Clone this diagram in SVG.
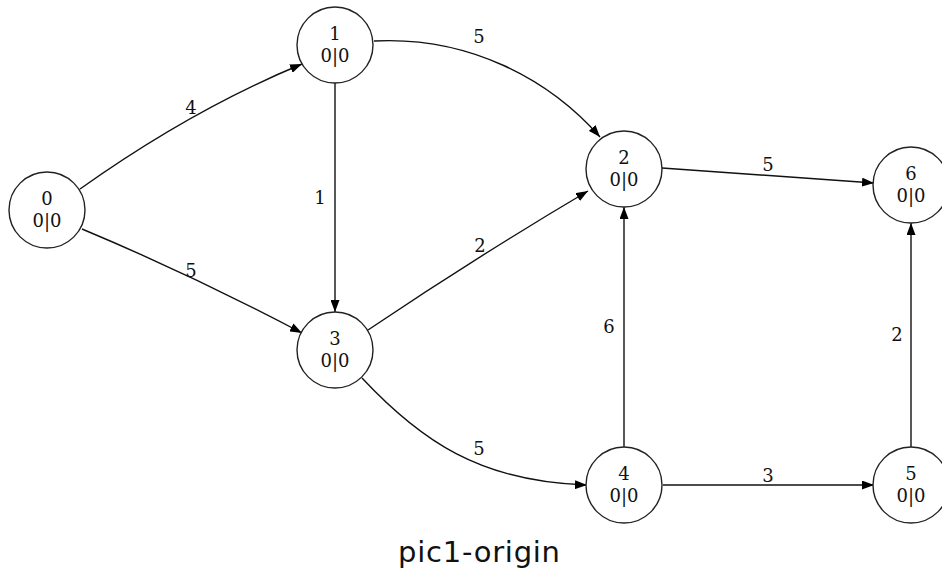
<svg xmlns="http://www.w3.org/2000/svg" width="942" height="572" viewBox="0 0 942 572">
<style>
.node circle{fill:#fff;stroke:#222;stroke-width:1.4}
.node text,.lbl{font-family:"DejaVu Serif",serif;font-size:18px;fill:#111;text-anchor:middle}
.edges path{fill:none;stroke:#111;stroke-width:1.4;marker-end:url(#arr)}
.title{font-family:"DejaVu Sans",sans-serif;font-size:29px;fill:#111}
</style>
<defs>
<marker id="arr" viewBox="0 0 12 9" refX="12" refY="4.5" markerWidth="12" markerHeight="9" markerUnits="userSpaceOnUse" orient="auto">
<path d="M0,0 L12,4.5 L0,9 z" fill="#000"/>
</marker>
</defs>
<rect width="942" height="572" fill="#fff"/>
<g class="edges" id="connectors">
<path d="M80,189 Q191,110 302,64"/>
<path d="M82,229 Q192,275 302,333"/>
<path d="M374,41 C470,36 550,80 600,137"/>
<path d="M335,83 L335,312"/>
<path d="M368,330 Q478,256 588,191"/>
<path d="M362,378 C420,440 480,482 587,485"/>
<path d="M662,168 L874,183"/>
<path d="M624,447 L624,207"/>
<path d="M663,485 L874,485"/>
<path d="M911,447 L911,223"/>
<text class="lbl" x="191" y="114">4</text>
<text class="lbl" x="191" y="277">5</text>
<text class="lbl" x="479" y="43">5</text>
<text class="lbl" x="320" y="204">1</text>
<text class="lbl" x="480" y="252">2</text>
<text class="lbl" x="479" y="455">5</text>
<text class="lbl" x="768" y="171">5</text>
<text class="lbl" x="609" y="333">6</text>
<text class="lbl" x="768" y="482">3</text>
<text class="lbl" x="897" y="341">2</text>
</g>
<g class="node" id="node0"><circle cx="47" cy="210" r="38"/><text x="47" y="205">0</text><text x="47" y="227">0|0</text></g>
<g class="node" id="node1"><circle cx="335" cy="45" r="38"/><text x="335" y="40">1</text><text x="335" y="62">0|0</text></g>
<g class="node" id="node2"><circle cx="624" cy="169" r="38"/><text x="624" y="164">2</text><text x="624" y="186">0|0</text></g>
<g class="node" id="node3"><circle cx="335" cy="350" r="38"/><text x="335" y="345">3</text><text x="335" y="367">0|0</text></g>
<g class="node" id="node4"><circle cx="624" cy="485" r="38"/><text x="624" y="480">4</text><text x="624" y="502">0|0</text></g>
<g class="node" id="node5"><circle cx="911" cy="485" r="38"/><text x="911" y="480">5</text><text x="911" y="502">0|0</text></g>
<g class="node" id="node6"><circle cx="911" cy="185" r="38"/><text x="911" y="180">6</text><text x="911" y="202">0|0</text></g>
<text class="title" x="398" y="562" textLength="162" lengthAdjust="spacing">pic1-origin</text>
</svg>
